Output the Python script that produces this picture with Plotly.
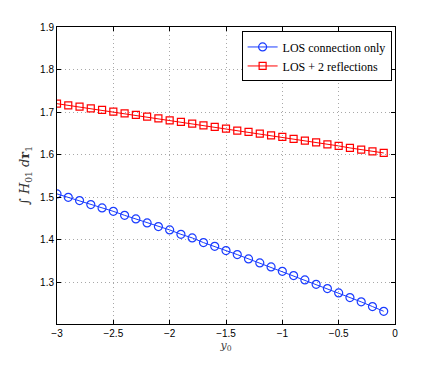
import plotly.graph_objects as go

x_vals = [round(-3 + 0.1 * i, 1) for i in range(30)]

los_only = [1.5077, 1.4997, 1.4920, 1.4826, 1.4748, 1.4668, 1.4574, 1.4490, 1.4396, 1.4309,
            1.4231, 1.4128, 1.4044, 1.3933, 1.3846, 1.3745, 1.3651, 1.3550, 1.3456, 1.3362,
            1.3259, 1.3158, 1.3057, 1.2953, 1.2853, 1.2751, 1.2641, 1.2540, 1.2430, 1.2319]

los_reflections = [1.7198, 1.7158, 1.7128, 1.7088, 1.7050, 1.7010, 1.6970, 1.6933, 1.6893, 1.6853,
                   1.6805, 1.6768, 1.6728, 1.6689, 1.6651, 1.6611, 1.6564, 1.6533, 1.6494, 1.6454,
                   1.6416, 1.6369, 1.6329, 1.6289, 1.6242, 1.6205, 1.6158, 1.6118, 1.6078, 1.6040]

x_ticks = [-3, -2.5, -2, -1.5, -1, -0.5, 0]
x_tick_text = ["\u22123", "\u22122.5", "\u22122", "\u22121.5", "\u22121", "\u22120.5", "0"]
y_ticks = [1.3, 1.4, 1.5, 1.6, 1.7, 1.8, 1.9]

fig = go.Figure()
fig.add_trace(go.Scatter(
    x=x_vals, y=los_only, mode="lines+markers", name="LOS connection only",
    line=dict(color="#1a3cff", width=1),
    marker=dict(symbol="circle-open", size=8, color="#1a3cff", line=dict(width=1.2)),
))
fig.add_trace(go.Scatter(
    x=x_vals, y=los_reflections, mode="lines+markers", name="LOS + 2 reflections",
    line=dict(color="#ff0000", width=1),
    marker=dict(symbol="square-open", size=7, color="#ff0000", line=dict(width=1.2)),
))

axis_common = dict(
    showline=True, linecolor="black", linewidth=1, mirror="ticks",
    ticks="inside", ticklen=4, tickcolor="black",
    showgrid=True, gridcolor="#a8a8a8", griddash="1px,3px", gridwidth=1,
    zeroline=False, automargin=False,
    tickfont=dict(family="Liberation Sans, Arial, sans-serif", size=10, color="black"),
)

fig.update_layout(
    width=436, height=366,
    margin=dict(l=49, r=49, t=19, b=50, autoexpand=False),
    plot_bgcolor="white", paper_bgcolor="white",
    xaxis=dict(range=[-3, 0], tickvals=x_ticks, ticktext=x_tick_text,
               title=dict(text="<i>y</i><sub>0</sub>", standoff=2,
                          font=dict(family="DejaVu Serif, serif", size=11, color="#444444")),
               **axis_common),
    yaxis=dict(range=[1.202, 1.9], tickvals=y_ticks, ticktext=[f"{v:.1f}" for v in y_ticks],
               title=dict(text="\u222b <i>H</i><sub>01</sub> <i>d</i><b>r</b><sub>1</sub>", standoff=7,
                          font=dict(family="DejaVu Serif, serif", size=13, color="#333333")),
               **axis_common),
    legend=dict(x=0.99, y=0.985, xanchor="right", yanchor="top",
                bgcolor="white", bordercolor="black", borderwidth=1,
                font=dict(family="Liberation Serif, Times New Roman, serif", size=12, color="black"),
                tracegroupgap=0, itemwidth=30),
    showlegend=True,
)

fig.write_html("out.html")
